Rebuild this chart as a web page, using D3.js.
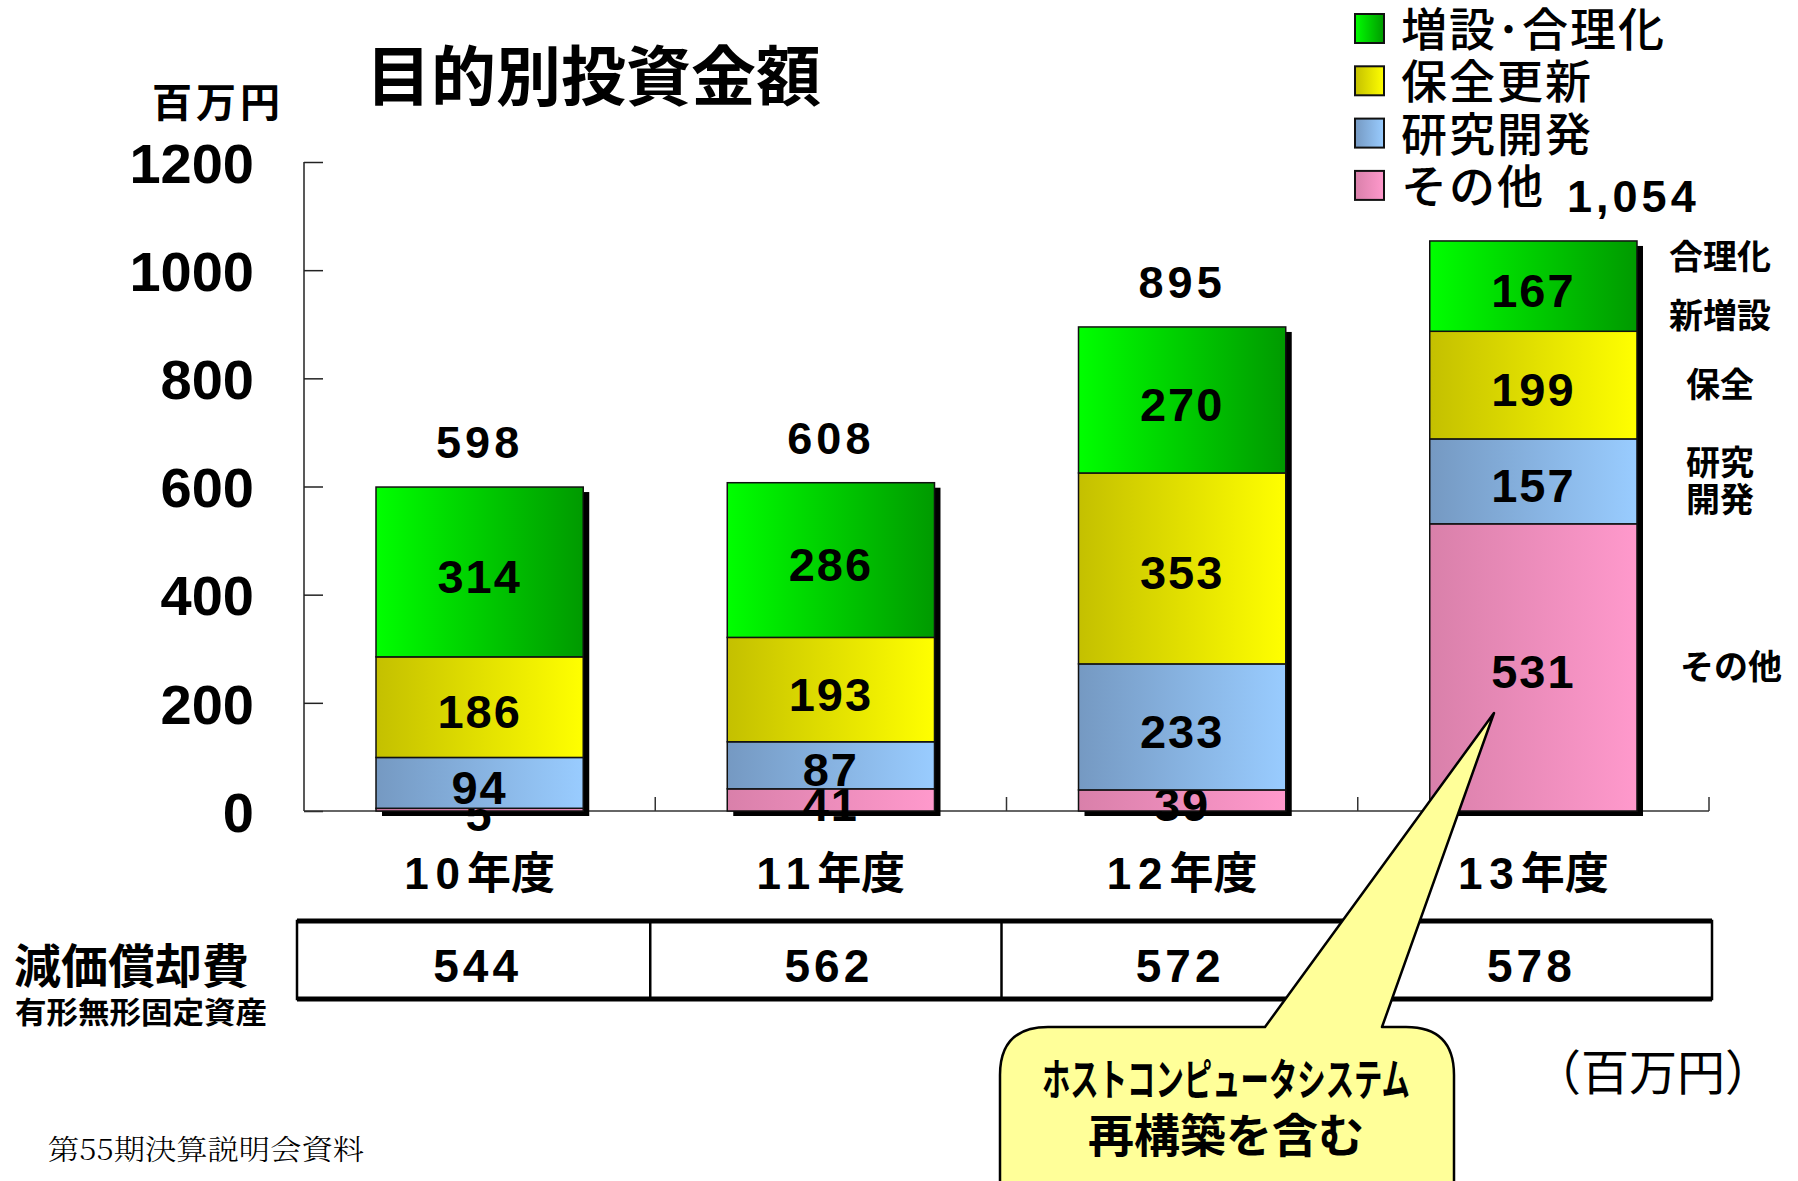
<!DOCTYPE html>
<html>
<head>
<meta charset="utf-8">
<script src="https://cdn.jsdelivr.net/npm/d3@7"></script>
<style>
  body { margin: 0; background: #ffffff; }
  text { font-family: 'Liberation Sans', 'Noto Sans CJK JP', sans-serif; fill: #000; }
  .jp { font-family: 'Noto Sans CJK JP', sans-serif; }
</style>
</head>
<body>
<div id="main"></div>
<script>
// chart values
var years = ['10', '11', '12', '13'];
var yearSuffix = '年度';
var seriesKeys = ['other', 'research', 'maintenance', 'expansion'];   // bottom -> top
var seriesNames = ['その他', '研究開発', '保全更新', '増設･合理化'];
var otherVals = [5, 41, 39, 531];
var researchVals = [94, 87, 233, 157];
var maintenanceVals = [186, 193, 353, 199];
var expansionVals = [314, 286, 270, 167];
var totalLabels = ['598', '608', '895', '1,054'];
var depreciation = ['544', '562', '572', '578'];
var yTicks = [0, 200, 400, 600, 800, 1000, 1200];
var sideLabels = [['その他'], ['研究', '開発'], ['保全'], ['合理化', '新増設']];

var svgWidth = 1798;
var svgHeight = 1181;

var svg = d3.select('#main').append('svg')
    .attr('width', svgWidth)
    .attr('height', svgHeight);

// gradients, light on one side dark on the other like the original slide
var gradStops = {
  expansion: ['#00ff00', '#009a00'],
  maintenance: ['#c4c000', '#ffff00'],
  research: ['#7599c2', '#99ccff'],
  other: ['#d980aa', '#ff99cc']
};
var defs = svg.append('defs');
seriesKeys.forEach(function(k) {
  var g = defs.append('linearGradient').attr('id', 'g_' + k)
      .attr('x1', 0).attr('x2', 1).attr('y1', 0).attr('y2', 0);
  g.append('stop').attr('offset', '0%').attr('stop-color', gradStops[k][0]);
  g.append('stop').attr('offset', '100%').attr('stop-color', gradStops[k][1]);
});

var rows = years.map(function(y, i) {
  return {year: y, other: otherVals[i], research: researchVals[i],
          maintenance: maintenanceVals[i], expansion: expansionVals[i]};
});
var stacked = d3.stack().keys(seriesKeys)(rows);

var xScale = d3.scaleBand()
    .domain(years)
    .range([304, 1709])
    .paddingInner(0.41)
    .paddingOuter(0.205);

var yScale = d3.scaleLinear()
    .domain([0, 1200])
    .range([811, 162]);

var step = xScale.step();
var bw = xScale.bandwidth();

// title + unit
svg.append('text').attr('class', 'jp')
    .attr('x', 366).attr('y', 100)
    .style('font-size', '65px').style('font-weight', 'bold')
    .text('目的別投資金額');
svg.append('text').attr('class', 'jp')
    .attr('x', 152).attr('y', 117)
    .style('font-size', '40px').style('font-weight', 'bold')
    .style('letter-spacing', '4px')
    .text('百万円');

// y axis
var yAxis = d3.axisLeft(yScale)
    .tickValues(yTicks)
    .tickSize(-19)
    .tickPadding(50)
    .tickFormat(d3.format('d'));
var yAxisG = svg.append('g')
    .attr('transform', 'translate(' + [304, 0] + ')')
    .call(yAxis);
yAxisG.select('.domain').attr('d', 'M0,' + yScale(1200) + 'V' + yScale(0))
    .attr('stroke', '#222').attr('stroke-width', 1.5);
yAxisG.selectAll('.tick line').attr('stroke', '#222').attr('stroke-width', 1.5);
yAxisG.selectAll('.tick text')
    .style('font-family', "'Liberation Sans', sans-serif")
    .style('font-size', '56px')
    .style('font-weight', 'bold')
    .attr('dy', '0.36em')
    .attr('fill', '#000');

// x axis line and boundary ticks
svg.append('line')
    .attr('x1', 304).attr('x2', 1709)
    .attr('y1', yScale(0)).attr('y2', yScale(0))
    .attr('stroke', '#333').attr('stroke-width', 1.5);
svg.selectAll('.xtick').data(years)
  .enter().append('line')
    .attr('class', 'xtick')
    .attr('x1', function(d) { return xScale(d) + bw + (step - bw) / 2; })
    .attr('x2', function(d) { return xScale(d) + bw + (step - bw) / 2; })
    .attr('y1', yScale(0)).attr('y2', yScale(0) - 14)
    .attr('stroke', '#333').attr('stroke-width', 1.5);

// bar shadows
svg.selectAll('.shadow').data(rows)
  .enter().append('rect')
    .attr('class', 'shadow')
    .attr('x', function(d) { return xScale(d.year) + 6; })
    .attr('y', function(d, i) { return yScale(stacked[3][i][1]) + 5; })
    .attr('width', bw)
    .attr('height', function(d, i) { return yScale(0) - yScale(stacked[3][i][1]); })
    .attr('fill', '#000');

// stacked segments
var layers = svg.selectAll('.layer').data(stacked)
  .enter().append('g')
    .attr('class', 'layer')
    .attr('fill', function(d) { return 'url(#g_' + d.key + ')'; });

layers.selectAll('rect').data(function(d) { return d; })
  .enter().append('rect')
    .attr('x', function(d) { return xScale(d.data.year); })
    .attr('y', function(d) { return yScale(d[1]); })
    .attr('width', bw)
    .attr('height', function(d) { return yScale(d[0]) - yScale(d[1]); })
    .attr('stroke', '#111')
    .attr('stroke-width', 1.5);

// segment value labels
layers.selectAll('text').data(function(d) { return d; })
  .enter().append('text')
    .attr('x', function(d) { return xScale(d.data.year) + bw / 2; })
    .attr('y', function(d) { return yScale((d[0] + d[1]) / 2) + 21; })
    .attr('text-anchor', 'middle')
    .style('font-size', '47px')
    .style('font-weight', 'bold')
    .style('letter-spacing', '2px')
    .text(function(d) { return d[1] - d[0]; });

// totals above bars
svg.selectAll('.total').data(totalLabels)
  .enter().append('text')
    .attr('class', 'total')
    .attr('x', function(d, i) {
      var cx = xScale(years[i]) + bw / 2;
      return i == 3 ? cx + 100 : cx;   // last one sits off to the right in the slide
    })
    .attr('y', function(d, i) { return yScale(stacked[3][i][1]) - 29; })
    .attr('text-anchor', 'middle')
    .style('font-size', '45px')
    .style('font-weight', 'bold')
    .style('letter-spacing', '4px')
    .text(function(d) { return d; });

// category labels
var cats = svg.selectAll('.cat').data(years)
  .enter().append('text')
    .attr('class', 'cat')
    .attr('x', function(d) { return xScale(d) + bw / 2; })
    .attr('y', 889)
    .attr('text-anchor', 'middle')
    .style('font-size', '44px')
    .style('font-weight', 'bold');
cats.append('tspan')
    .style('letter-spacing', '7px')
    .text(function(d) { return d; });
cats.append('tspan')
    .attr('class', 'jp')
    .text(yearSuffix);

// labels on right side of last bar
var lastIdx = 3;
var sideGap = [0, 37, 0, 59];
sideLabels.forEach(function(lines, k) {
  var seg = stacked[k][lastIdx];
  var cy = yScale((seg[0] + seg[1]) / 2);
  var t = svg.append('text').attr('class', 'jp')
      .attr('text-anchor', 'middle')
      .style('font-size', '34px').style('font-weight', 'bold');
  lines.forEach(function(s, j) {
    var off = (j - (lines.length - 1) / 2) * sideGap[k];
    t.append('tspan')
      .attr('x', k == 0 ? 1731 : 1720)
      .attr('y', cy + off + 12)
      .text(s);
  });
});

// legend (top is last series)
var legendOrder = [3, 2, 1, 0];
var legend = svg.selectAll('.legend').data(legendOrder)
  .enter().append('g')
    .attr('class', 'legend')
    .attr('transform', function(d, i) { return 'translate(' + [1355, 14 + i * 52.3] + ')'; });
legend.append('rect')
    .attr('width', 29).attr('height', 29)
    .attr('fill', function(d) { return 'url(#g_' + seriesKeys[d] + ')'; })
    .attr('stroke', '#111').attr('stroke-width', 2);
legend.append('text').attr('class', 'jp')
    .attr('x', 46).attr('y', 32)
    .style('font-size', '46px')
    .style('font-weight', '500')
    .style('letter-spacing', '2px')
    .text(function(d) { return seriesNames[d]; });

// depreciation table
var tableTop = 921, tableBot = 999;
var tableL = 297, tableR = 1712;
svg.append('rect')
    .attr('x', tableL).attr('y', tableTop)
    .attr('width', tableR - tableL).attr('height', tableBot - tableTop)
    .attr('fill', '#fff').attr('stroke', '#000').attr('stroke-width', 2.5);
svg.selectAll('.hline').data([tableTop, tableBot])
  .enter().append('line')
    .attr('x1', tableL).attr('x2', tableR)
    .attr('y1', function(d) { return d; }).attr('y2', function(d) { return d; })
    .attr('stroke', '#000').attr('stroke-width', 5);
svg.selectAll('.divider').data(years.slice(0, 3))
  .enter().append('line')
    .attr('class', 'divider')
    .attr('x1', function(d) { return xScale(d) + bw + (step - bw) / 2 - 5; })
    .attr('x2', function(d) { return xScale(d) + bw + (step - bw) / 2 - 5; })
    .attr('y1', tableTop).attr('y2', tableBot)
    .attr('stroke', '#000').attr('stroke-width', 2.5);
svg.selectAll('.dep').data(depreciation)
  .enter().append('text')
    .attr('class', 'dep')
    .attr('x', function(d, i) { return xScale(years[i]) + bw / 2 - 2; })
    .attr('y', 982)
    .attr('text-anchor', 'middle')
    .style('font-size', '46px')
    .style('font-weight', 'bold')
    .style('letter-spacing', '4px')
    .text(function(d) { return d; });

svg.append('text').attr('class', 'jp')
    .attr('x', 14).attr('y', 983)
    .style('font-size', '47px').style('font-weight', 'bold')
    .text('減価償却費');
svg.append('text').attr('class', 'jp')
    .attr('x', 15).attr('y', 1023)
    .attr('textLength', 252).attr('lengthAdjust', 'spacingAndGlyphs')
    .style('font-size', '30px').style('font-weight', 'bold')
    .text('有形無形固定資産');

// callout
var tip = [1494, 713];
var bx0 = 1000, bx1 = 1454, by0 = 1027, r = 48;
var calloutPath = 'M' + (bx0 + r) + ',' + by0 +
    'L1265,' + by0 + 'L' + tip[0] + ',' + tip[1] + 'L1382,' + by0 +
    'L' + (bx1 - r) + ',' + by0 +
    'Q' + bx1 + ',' + by0 + ' ' + bx1 + ',' + (by0 + r) +
    'L' + bx1 + ',1230L' + bx0 + ',1230' +
    'L' + bx0 + ',' + (by0 + r) +
    'Q' + bx0 + ',' + by0 + ' ' + (bx0 + r) + ',' + by0 + 'Z';
svg.append('path')
    .attr('d', calloutPath)
    .attr('fill', '#ffff99')
    .attr('stroke', '#000')
    .attr('stroke-width', 2.5)
    .attr('stroke-linejoin', 'round');
svg.append('text').attr('class', 'jp')
    .attr('x', 1042).attr('y', 1096)
    .attr('textLength', 368).attr('lengthAdjust', 'spacingAndGlyphs')
    .style('font-size', '44px').style('font-weight', 'bold')
    .text('ホストコンピュータシステム');
svg.append('text').attr('class', 'jp')
    .attr('x', 1226).attr('y', 1152)
    .attr('text-anchor', 'middle')
    .style('font-size', '46px').style('font-weight', 'bold')
    .text('再構築を含む');

svg.append('text').attr('class', 'jp')
    .attr('x', 1533).attr('y', 1090)
    .attr('textLength', 240).attr('lengthAdjust', 'spacingAndGlyphs')
    .style('font-size', '48px')
    .text('（百万円）');

// footer
svg.append('text')
    .attr('x', 48).attr('y', 1160)
    .attr('textLength', 316).attr('lengthAdjust', 'spacingAndGlyphs')
    .style('font-family', "'Noto Serif CJK JP', 'Noto Sans CJK JP', serif")
    .style('font-size', '28px')
    .style('font-weight', '300')
    .attr('fill', '#333')
    .text('第55期決算説明会資料');
</script>
</body>
</html>
